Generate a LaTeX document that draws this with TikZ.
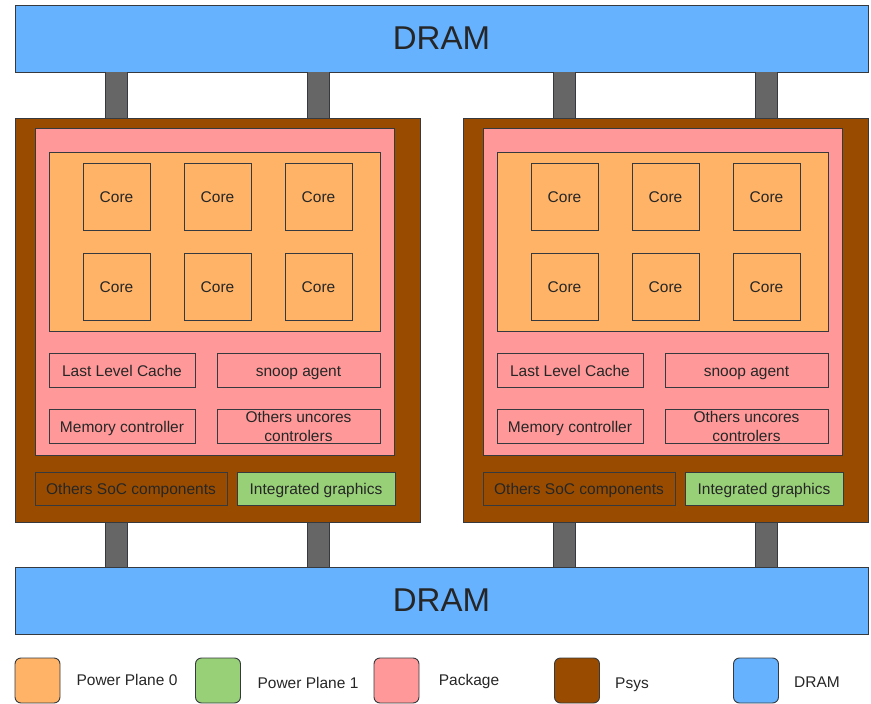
\documentclass[tikz,border=0pt]{standalone}
\usepackage{fontspec}
\setmainfont{Liberation Sans}
\definecolor{dramblue}{HTML}{66B2FF}
\definecolor{ppzero}{HTML}{FFB366}
\definecolor{ppone}{HTML}{97D077}
\definecolor{pkgpink}{HTML}{FF9999}
\definecolor{psysbrown}{HTML}{994C00}
\definecolor{busgray}{HTML}{666666}
\definecolor{edgegray}{HTML}{36393D}

\begin{document}
\begin{tikzpicture}[x=1pt,y=-1pt,font=\fontsize{15.5}{19}\selectfont,
  box/.style={draw=edgegray,line width=0.9pt,inner sep=0pt,outer sep=0pt,align=center,text=black!85},
  oneline/.style={text height=14pt,text depth=2pt},
  dram/.style={box,fill=dramblue,minimum width=853pt,minimum height=67pt,font=\fontsize{33}{36}\selectfont},
  psys/.style={box,fill=psysbrown,minimum width=405pt,minimum height=404pt},
  pkg/.style={box,fill=pkgpink},
  plane/.style={box,fill=ppzero},
  core/.style={plane,minimum width=67pt,minimum height=67pt},
  bus/.style={draw=edgegray,line width=0.9pt,double=busgray,double distance=21pt},
  key/.style={box,rounded corners=6pt,minimum width=45pt,minimum height=45pt}]
\useasboundingbox (0,0) rectangle (871,704);

\node[dram] (dramtop) at (441.5,38.5) {DRAM};
\node[dram] (drambot) at (441.5,600.5) {DRAM};

\foreach \p/\dx in {A/0,B/448}
{
  \coordinate (bus\p1) at (116.5+\dx,0);
  \coordinate (bus\p2) at (318.5+\dx,0);
  \node[psys] (psys\p) at (217.5+\dx,320) {};
  \draw[bus] (dramtop.south -| bus\p1) -- (psys\p.north -| bus\p1);
  \draw[bus] (dramtop.south -| bus\p2) -- (psys\p.north -| bus\p2);
  \draw[bus] (drambot.north -| bus\p1) -- (psys\p.south -| bus\p1);
  \draw[bus] (drambot.north -| bus\p2) -- (psys\p.south -| bus\p2);
  \node[psys] at (psys\p) {};
  \node[pkg,minimum width=359pt,minimum height=327pt] (pkg\p) at (214.5+\dx,291.5) {};
  \node[plane,minimum width=331pt,minimum height=179pt] (plane\p) at (214.5+\dx,241.5) {};
  \foreach \i/\cx/\cy in {1/116.5/196.5,2/217.5/196.5,3/318.5/196.5,4/116.5/286.5,5/217.5/286.5,6/318.5/286.5}
    \node[core,oneline] (core\p\i) at (\cx+\dx,\cy) {Core};
  \node[pkg,oneline,minimum width=146pt,minimum height=34pt] (llc\p) at (122+\dx,370) {Last Level Cache};
  \node[pkg,oneline,minimum width=163pt,minimum height=34pt] (snoop\p) at (298.5+\dx,370) {snoop agent};
  \node[pkg,oneline,minimum width=146pt,minimum height=34pt] (memctl\p) at (122+\dx,426) {Memory controller};
  \node[pkg,minimum width=163pt,minimum height=34pt] (uncore\p) at (298.5+\dx,426.5) {Others uncores\\controlers};
  \node[box,oneline,fill=psysbrown,minimum width=192pt,minimum height=33pt] (soc\p) at (131+\dx,488.5) {Others SoC components};
  \node[box,oneline,fill=ppone,minimum width=158pt,minimum height=33pt] (gfx\p) at (316+\dx,488.5) {Integrated graphics};
}

\foreach \k/\c/\kx/\L/\lx/\ly in {0/ppzero/37.5/Power Plane 0/127/679,1/ppone/218/Power Plane 1/308/682,2/pkgpink/396.5/Package/469/679,3/psysbrown/577/Psys/632/682,4/dramblue/756/DRAM/817/681}
{
  \node[key,fill=\c] (key\k) at (\kx,680.5) {};
  \node[oneline,inner sep=0pt,text=black!85] (keylabel\k) at (\lx,\ly) {\L};
}
\end{tikzpicture}
\end{document}
